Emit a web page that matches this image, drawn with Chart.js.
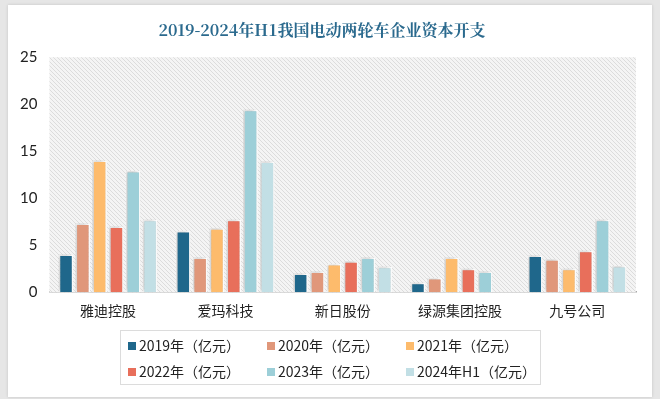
<!DOCTYPE html>
<html><head><meta charset="utf-8">
<script src="https://cdn.jsdelivr.net/npm/chart.js@4/dist/chart.umd.min.js"></script>
<style>
html,body{margin:0;padding:0;background:#e6e6e6;width:660px;height:399px;overflow:hidden;}
#card{position:absolute;left:8px;top:5px;width:644px;height:392px;background:#fff;box-shadow:0 0 3px rgba(0,0,0,0.15);}
#wrap{position:absolute;left:0;top:0;width:660px;height:399px;}
</style></head>
<body><div id="card"></div><div id="wrap"><canvas id="c" width="660" height="399"></canvas></div>
<script>
const categories = ['雅迪控股','爱玛科技','新日股份','绿源集团控股','九号公司'];
const seriesLabels = ['2019年（亿元）','2020年（亿元）','2021年（亿元）','2022年（亿元）','2023年（亿元）','2024年H1（亿元）'];
const v2019 = [4.0, 6.5, 2.0, 1.0, 3.9];
const v2020 = [7.3, 3.7, 2.2, 1.5, 3.5];
const v2021 = [14.0, 6.8, 3.0, 3.7, 2.5];
const v2022 = [7.0, 7.7, 3.3, 2.5, 4.4];
const v2023 = [12.9, 19.4, 3.7, 2.2, 7.7];
const v2024H1 = [7.7, 13.9, 2.7, null, 2.8];
const yTicks = [0, 5, 10, 15, 20, 25];
const colors = ['#1f678b','#e0977a','#fdbb6c','#e86f5b','#9dcfd8','#c2dfe5'];
const seriesValues = [v2019, v2020, v2021, v2022, v2023, v2024H1];

const CJK = '"Noto Sans CJK SC", sans-serif';

const hatchPlugin = {
  id: 'hatch',
  beforeDatasetsDraw(chart) {
    const {ctx, chartArea: a} = chart;
    const p = document.createElement('canvas');
    p.width = 4; p.height = 4;
    const pc = p.getContext('2d');
    pc.fillStyle = '#f4f4f4'; pc.fillRect(0,0,4,4);
    pc.strokeStyle = '#dcdcdc'; pc.lineWidth = 1;
    pc.beginPath(); pc.moveTo(-1,-1); pc.lineTo(5,5); pc.moveTo(-1,3); pc.lineTo(1,5); pc.moveTo(3,-1); pc.lineTo(5,1); pc.stroke();
    ctx.save();
    ctx.fillStyle = ctx.createPattern(p, 'repeat');
    ctx.fillRect(a.left, a.top, a.right - a.left, a.bottom - a.top);
    ctx.restore();
    ctx.save();
    ctx.shadowColor = 'rgba(0,0,0,0.22)';
    ctx.shadowBlur = 4;
    ctx.shadowOffsetX = -2;
    ctx.shadowOffsetY = -1;
  },
  afterDatasetsDraw(chart) { chart.ctx.restore(); }
};

const legendPlugin = {
  id: 'boxLegend',
  afterDraw(chart) {
    const ctx = chart.ctx;
    ctx.save();
    ctx.strokeStyle = '#dcdcdc'; ctx.lineWidth = 1;
    ctx.strokeRect(120.5, 330.5, 420, 54);
    const cols = [128, 267, 406], rows = [346, 372];
    ctx.font = '14px ' + CJK;
    ctx.textBaseline = 'middle';
    chart.data.datasets.forEach((ds, i) => {
      const x = cols[i % 3], y = rows[Math.floor(i / 3)];
      ctx.fillStyle = ds.backgroundColor;
      ctx.fillRect(x, y - 4, 8, 8);
      ctx.fillStyle = '#222';
      ctx.fillText(ds.label, x + 11, y);
    });
    ctx.restore();
  }
};

new Chart(document.getElementById('c'), {
  type: 'bar',
  data: {
    labels: categories,
    datasets: seriesLabels.map((l, i) => ({
      label: l, data: seriesValues[i], backgroundColor: colors[i],
      borderColor: '#ffffff', borderWidth: 1.5, borderSkipped: 'bottom',
      categoryPercentage: 0.86, barPercentage: 0.86
    }))
  },
  options: {
    responsive: false, animation: false,
    layout: {padding: {left: 8, right: 24, top: 0, bottom: 78}},
    plugins: {
      legend: {display: false},
      tooltip: {enabled: false},
      title: {display: true, text: '2019-2024年H1我国电动两轮车企业资本开支', color: '#2b6a8e',
        font: {family: '"Noto Serif CJK SC", "DejaVu Serif", ' + CJK, size: 16, weight: 'bold'}, padding: {top: 20, bottom: 18}}
    },
    scales: {
      x: {grid: {display: false}, border: {color: '#a8a8a8', width: 1.5},
        ticks: {color: '#222', font: {family: CJK, size: 14}, padding: 2}},
      y: {min: 0, max: 25, grid: {display: false, drawTicks: false}, border: {display: false},
        afterBuildTicks(s) { s.ticks = yTicks.map(v => ({value: v})); },
        ticks: {color: '#222', font: {family: 'Lato, "Open Sans", sans-serif', size: 15}, padding: 12}}
    }
  },
  plugins: [hatchPlugin, legendPlugin]
});
</script></body></html>
